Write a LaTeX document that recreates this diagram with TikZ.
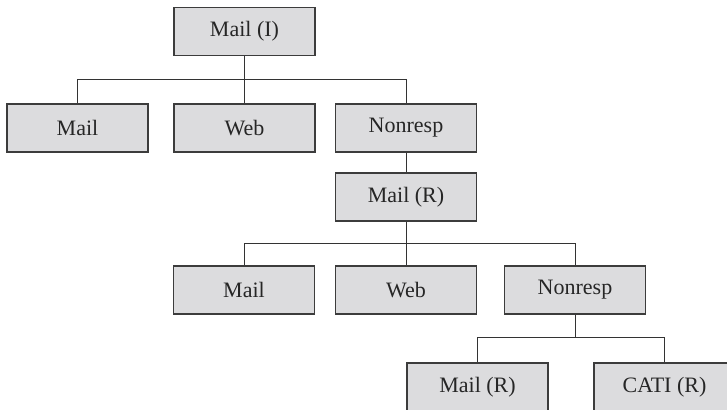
\documentclass[tikz,border=0pt]{standalone}
\usepackage{fontspec}
\setmainfont{Liberation Serif}
\usepackage{xcolor}
\definecolor{boxfill}{RGB}{220,220,222}
\definecolor{boxline}{RGB}{60,60,60}
\tikzset{
	modebox/.style={
			draw=boxline, fill=boxfill, line width=0.6pt,
			minimum width=70.5pt, minimum height=24pt, inner sep=2pt,
			font=\fontsize{11}{13}\selectfont, text=black!85
		},
	link/.style={draw=black!80, line width=0.5pt}
}

\begin{document}
\begin{tikzpicture}[x=0.5pt,y=-0.5pt]
	\clip (0,0) rectangle (727,410);

	\node[modebox] (mailI) at (244.5,31.5) {Mail (I)};

	\node[modebox] (mail1) at (77.5,128) {Mail};
	\node[modebox] (web1) at (244.5,128) {Web};
	\node[modebox] (nonresp1) at (406,128) {Nonresp};

	\node[modebox] (mailR) at (406,197) {Mail (R)};

	\node[modebox] (mail2) at (244,290) {Mail};
	\node[modebox] (web2) at (406,290) {Web};
	\node[modebox] (nonresp2) at (575,290) {Nonresp};

	\node[modebox] (mailR2) at (477.5,387) {Mail (R)};
	\node[modebox] (catiR) at (664.5,387) {CATI (R)};

	\coordinate (j1) at (244.5,79.5);
	\coordinate (j2) at (406,244);
	\coordinate (j3) at (575,337.5);

	\draw[link] (mailI) -- (j1);
	\draw[link] (j1) -| (mail1);
	\draw[link] (j1) -- (web1);
	\draw[link] (j1) -| (nonresp1);

	\draw[link] (nonresp1) -- (mailR);

	\draw[link] (mailR) -- (j2);
	\draw[link] (j2) -| (mail2);
	\draw[link] (j2) -- (web2);
	\draw[link] (j2) -| (nonresp2);

	\draw[link] (nonresp2) -- (j3);
	\draw[link] (j3) -| (mailR2);
	\draw[link] (j3) -| (catiR);
\end{tikzpicture}
\end{document}
